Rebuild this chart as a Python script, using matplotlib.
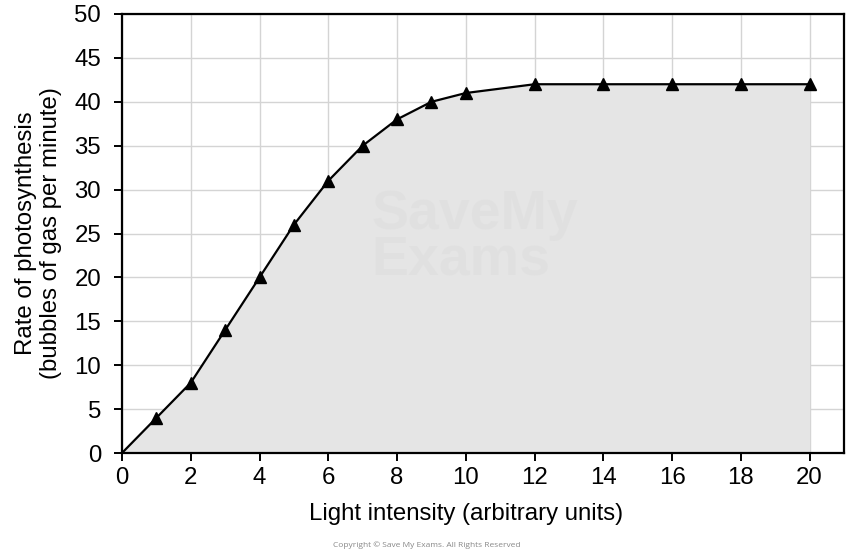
import matplotlib
matplotlib.use("Agg")
import matplotlib.pyplot as plt

light_intensity = [0, 1, 2, 3, 4, 5, 6, 7, 8, 9, 10, 12, 14, 16, 18, 20]
rate = [0, 4, 8, 14, 20, 26, 31, 35, 38, 40, 41, 42, 42, 42, 42, 42]
x_ticks = [0, 2, 4, 6, 8, 10, 12, 14, 16, 18, 20]
y_ticks = [0, 5, 10, 15, 20, 25, 30, 35, 40, 45, 50]

plt.rcParams['font.family'] = ['Liberation Sans', 'DejaVu Sans']

fig = plt.figure(figsize=(8.54, 5.52), dpi=100)
ax = fig.add_axes([122/854, 1-453/552, (844-122)/854, (453-14)/552])

ax.fill_between(light_intensity, rate, 0, color='#e5e5e5', zorder=1, linewidth=0)
ax.plot(light_intensity, rate, color='black', linewidth=1.6, zorder=3)
ax.plot(light_intensity[1:], rate[1:], linestyle='none', marker='^', markersize=9,
        color='black', zorder=4)

ax.text(0.345, 0.49, "SaveMy\nExams", transform=ax.transAxes, fontsize=40, fontweight='bold',
        color='#d0d0d0', alpha=0.2, ha='left', va='center', linespacing=0.85,
        zorder=2)

ax.set_xlim(0, 21)
ax.set_ylim(0, 50)
ax.set_xticks(x_ticks)
ax.set_yticks(y_ticks)
ax.grid(True, color='#d4d4d4', linewidth=1.0, zorder=0)
ax.set_axisbelow(True)
for s in ax.spines.values():
    s.set_linewidth(1.6)
    s.set_color('black')
ax.tick_params(direction='out', length=6, width=1.4, labelsize=17.3)
ax.tick_params(axis='x', pad=4)
ax.tick_params(axis='y', pad=9)

ax.set_xlabel("Light intensity (arbitrary units)", fontsize=17.3)
ax.xaxis.set_label_coords((466-122)/722, -(503-453)/439)
ax.set_ylabel("Rate of photosynthesis\n(bubbles of gas per minute)", fontsize=17.3)
ax.yaxis.set_label_coords(-(122-62)/722, 0.5)

fig.text(0.5, 7/552, "Copyright © Save My Exams. All Rights Reserved",
         ha='center', va='center', fontsize=6, color='#888888', family='Open Sans')

fig.savefig("out.png", dpi=100)
